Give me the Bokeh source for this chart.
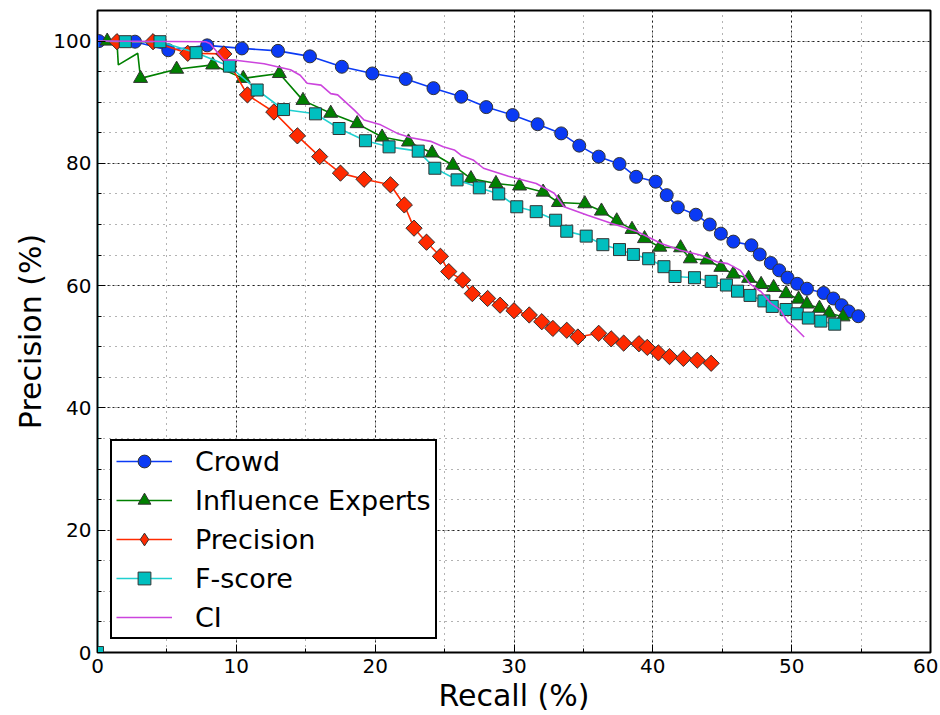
from bokeh.plotting import figure
from bokeh.models import SingleIntervalTicker, Range1d, Legend, LegendItem
from bokeh.embed import file_html
from bokeh.resources import INLINE
import math

# ---------------- data ----------------
x_ticks_interval = 10
y_ticks_interval = 20

crowd_x = [0.1, 2.7, 5.1, 7.9, 10.4, 13.0, 15.3, 17.6, 19.8, 22.2, 24.2, 26.2, 28.0, 29.9,
           31.7, 33.4, 34.7, 36.1, 37.6, 38.8, 40.2, 41.0, 41.8, 43.1, 44.1, 44.9, 45.8,
           47.1, 47.7, 48.5, 49.1, 49.7, 50.4, 51.1, 52.3, 53.0, 53.6, 54.1, 54.8]
crowd_y = [100.0, 99.9, 98.5, 99.3, 98.8, 98.4, 97.5, 95.8, 94.7, 93.8, 92.3, 90.9, 89.2, 87.9,
           86.4, 84.9, 82.9, 81.1, 79.9, 77.8, 77.0, 74.8, 72.8, 71.6, 70.0, 68.5, 67.2,
           66.6, 65.1, 63.7, 62.5, 61.3, 60.3, 59.5, 58.8, 57.9, 56.8, 55.8, 55.0]

infl_x = [0.7, 1.4, 1.5, 2.9, 3.1, 5.7, 8.3, 10.5, 13.1, 14.8, 16.8, 18.7, 20.5, 22.4, 24.1,
          25.6, 26.9, 28.7, 30.4, 32.1, 33.2, 35.1, 36.3, 37.4, 38.5, 39.4, 40.5, 42.0,
          42.7, 43.9, 44.9, 45.8, 46.9, 47.8, 48.7, 49.6, 50.5, 51.1, 52.0, 52.7, 53.7, 54.3]
infl_y = [100.0, 100.0, 96.1, 98.0, 93.9, 95.4, 96.1, 93.9, 94.7, 90.3, 88.2, 86.5, 84.3, 83.5,
          81.7, 79.7, 77.5, 76.7, 76.3, 75.3, 73.6, 73.4, 72.2, 70.6, 69.2, 67.7, 66.3,
          66.2, 64.4, 64.2, 63.0, 61.9, 61.2, 60.2, 59.7, 58.7, 57.8, 57.0, 56.3, 55.5, 54.9, 54.7]
infl_marked = [True, False, False, False] + [True] * 37 + [False]

prec_x = [0.0, 1.4, 4.0, 6.5, 9.1, 10.8, 12.7, 14.4, 16.0, 17.5, 19.2, 21.1, 22.1, 22.8, 23.7,
          24.7, 25.3, 26.3, 27.0, 28.1, 29.0, 30.0, 31.1, 32.0, 32.8, 33.8, 34.6, 36.1,
          37.0, 37.9, 39.0, 39.6, 40.4, 41.2, 42.2, 43.2, 44.2]
prec_y = [100.0, 99.9, 99.9, 98.0, 97.9, 91.2, 88.4, 84.5, 81.1, 78.4, 77.4, 76.5, 73.2, 69.4,
          67.1, 64.8, 62.3, 60.9, 58.7, 57.9, 56.8, 55.9, 55.2, 54.1, 53.0, 52.7, 51.6, 52.2,
          51.3, 50.6, 50.5, 49.9, 49.0, 48.4, 48.1, 47.8, 47.3]
prec_marked = [False] + [True] * 36

fscore_x = [0.0, 0.0, 2.0, 4.5, 7.1, 9.5, 11.5, 13.4, 15.7, 17.4, 19.3, 21.0, 23.1, 24.3, 25.9,
            27.5, 28.9, 30.2, 31.6, 33.0, 33.8, 35.2, 36.4, 37.6, 38.6, 39.7, 40.8, 41.6,
            43.0, 44.2, 45.3, 46.1, 47.0, 48.0, 48.6, 49.6, 50.4, 51.2, 52.1, 53.1]
fscore_y = [0.0, 100.0, 99.9, 99.9, 98.1, 95.9, 92.0, 88.8, 88.1, 85.7, 83.7, 82.7, 82.0, 79.2,
            77.3, 76.0, 75.0, 72.9, 72.1, 70.7, 68.9, 68.1, 66.7, 65.9, 65.1, 64.4, 63.1,
            61.5, 61.3, 60.7, 60.1, 59.1, 58.4, 57.5, 56.6, 56.1, 55.4, 54.7, 54.2, 53.7]
fscore_marked = [True, False] + [True] * 38

ci_x = [0.0, 7.8, 8.1, 9.1, 9.8, 12.0, 13.9, 14.6, 15.1, 16.1, 16.8, 17.3, 18.5, 19.2, 20.4,
        21.6, 22.6, 24.0, 24.9, 25.7, 26.2, 27.1, 27.8, 29.6, 31.6, 32.9, 33.6, 35.3, 37.0,
        38.9, 40.6, 42.0, 43.4, 44.6, 45.4, 46.3, 47.0, 47.8, 48.5, 49.2, 49.7, 50.2, 50.9]
ci_y = [100.0, 99.9, 99.6, 96.9, 96.9, 96.3, 95.3, 94.4, 93.1, 92.8, 91.4, 91.2, 88.7, 87.1,
        86.3, 84.9, 84.2, 83.6, 82.7, 82.2, 81.3, 80.5, 79.2, 77.9, 76.7, 75.1, 72.9, 71.5,
        70.2, 68.8, 66.9, 65.8, 65.0, 63.9, 63.6, 62.5, 60.3, 59.0, 57.1, 56.0, 54.1, 53.2, 51.6]

labels = ["Crowd", "Influence Experts", "Precision", "F-score", "CI"]

# ---------------- figure ----------------
FONT = "DejaVu Sans"
p = figure(frame_width=833, frame_height=642, output_backend="svg", toolbar_location=None,
           x_range=Range1d(0, 60), y_range=Range1d(0, 105),
           min_border_left=97, min_border_right=8, min_border_top=10, min_border_bottom=60,
           background_fill_color="white", border_fill_color="white")
p.outline_line_color = "black"
p.outline_line_width = 2
p.outline_line_alpha = 1

p.xaxis.ticker = SingleIntervalTicker(interval=x_ticks_interval, num_minor_ticks=2)
p.yaxis.ticker = SingleIntervalTicker(interval=y_ticks_interval, num_minor_ticks=4)
p.xgrid.ticker = p.xaxis.ticker
p.ygrid.ticker = p.yaxis.ticker

for ax in (p.xaxis, p.yaxis):
    ax.major_tick_in = 8
    ax.major_tick_out = 0
    ax.minor_tick_in = 4
    ax.minor_tick_out = 0
    ax.axis_line_color = "black"
    ax.axis_line_width = 1
    ax.major_tick_line_color = "black"
    ax.minor_tick_line_color = "black"
    ax.major_label_text_font = FONT
    ax.major_label_text_font_size = "20px"
    ax.major_label_text_color = "black"
    ax.axis_label_text_font = FONT
    ax.axis_label_text_font_size = "30px"
    ax.axis_label_text_font_style = "normal"
    ax.axis_label_text_color = "black"
    ax.axis_label_standoff = 2
    ax.major_label_standoff = 6

p.xaxis.axis_label = "Recall (%)"
p.yaxis.axis_label = "Precision (%)"

for g in (p.xgrid, p.ygrid):
    g.grid_line_color = "black"
    g.grid_line_dash = "2 3"
    g.grid_line_width = 1
    g.grid_line_alpha = 0.85
    g.minor_grid_line_color = "black"
    g.minor_grid_line_dash = "1 5"
    g.minor_grid_line_width = 1
    g.minor_grid_line_alpha = 0.6

EDGE = "#333333"

def sub(xs, ys, mask):
    return [a for a, m in zip(xs, mask) if m], [b for b, m in zip(ys, mask) if m]

items = []

# Crowd
c = "#0a3af5"
l1 = p.line(crowd_x, crowd_y, line_color=c, line_width=1.6)
m1 = p.scatter(crowd_x, crowd_y, marker="circle", size=13, fill_color=c,
               line_color=EDGE, line_width=1)
items.append(LegendItem(label=labels[0], renderers=[l1, m1]))

# Influence Experts
c = "#008000"
l2 = p.line(infl_x, infl_y, line_color=c, line_width=1.6)
mx, my = sub(infl_x, infl_y, infl_marked)
m2 = p.scatter(mx, my, marker="triangle", size=14, fill_color=c,
               line_color=EDGE, line_width=1)
items.append(LegendItem(label=labels[1], renderers=[l2, m2]))

# Precision
c = "#ff2a00"
l3 = p.line(prec_x, prec_y, line_color=c, line_width=1.6)
mx, my = sub(prec_x, prec_y, prec_marked)
# narrow diamonds (used for the legend sample), hidden under the rotated squares
m3_leg = p.scatter(mx, my, marker="diamond", size=15, fill_color=c,
                   line_color=EDGE, line_width=1)
m3 = p.scatter(mx, my, marker="square", angle=math.pi / 4, size=11.5, fill_color=c,
               line_color=EDGE, line_width=1)
items.append(LegendItem(label=labels[2], renderers=[l3, m3_leg]))

# F-score
c = "#00bfbf"
l4 = p.line(fscore_x, fscore_y, line_color="#20d0d0", line_width=1.6)
mx, my = sub(fscore_x, fscore_y, fscore_marked)
m4 = p.scatter(mx, my, marker="square", size=12, fill_color=c,
               line_color=EDGE, line_width=1)
items.append(LegendItem(label=labels[3], renderers=[l4, m4]))

# CI
l5 = p.line(ci_x, ci_y, line_color="#cc44dd", line_width=1.6)
items.append(LegendItem(label=labels[4], renderers=[l5]))

legend = Legend(items=items, location="bottom_left")
legend.label_text_font = FONT
legend.label_text_font_size = "27px"
legend.label_text_color = "black"
legend.glyph_width = 56
legend.glyph_height = 32
legend.label_height = 32
legend.spacing = 7
legend.padding = 4
legend.label_standoff = 23
legend.margin = 13
legend.border_line_color = "black"
legend.border_line_width = 2
legend.border_line_alpha = 1
legend.background_fill_color = "white"
legend.background_fill_alpha = 1
p.add_layout(legend)

open("out.html", "w").write(file_html(p, INLINE))
